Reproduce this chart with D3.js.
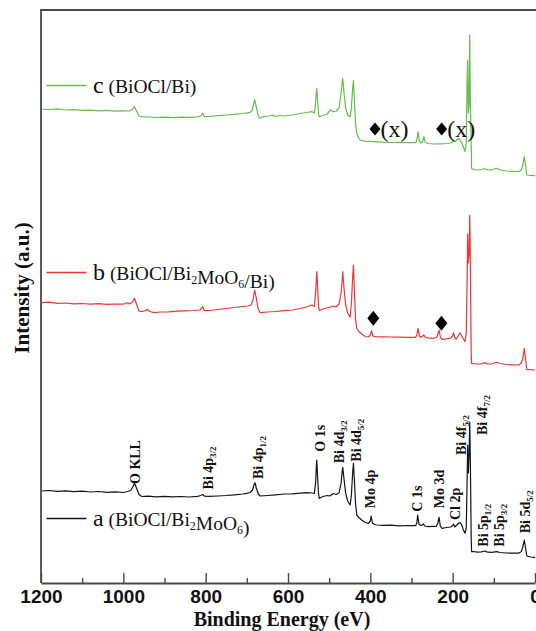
<!DOCTYPE html>
<html>
<head>
<meta charset="utf-8">
<script src="https://cdn.jsdelivr.net/npm/d3@7"></script>
<style>
  html, body { margin: 0; padding: 0; background: #fff; overflow: hidden; }
  text { font-family: "Liberation Serif", "Times New Roman", Times, serif; }
</style>
</head>
<body>
<svg id="chart" width="536" height="631"></svg>
<script>
// XPS survey spectra, [binding energy (eV), intensity (a.u., stacked)]
const spectrumA = [
  [1200,92],[1180,92.5],[1160,91.6],[1140,92.2],[1120,91.4],[1100,91.8],[1080,91.0],[1060,91.5],
  [1040,90.6],[1020,91.2],[1000,90.5],[990,91.5],[982,92.5],[976,97],[973,99.7],[968,95],[962,88.5],
  [955,86.5],[940,86.8],[920,86.2],[900,86.6],[880,86.1],[860,86.5],[840,86.0],[820,86.7],[812,87.5],
  [807,88.5],[803,86.8],[790,86.6],[770,87.0],[750,87.5],[730,88.2],[710,89.0],[700,89.7],[692,90.5],
  [686,93],[682,99],[680,100.3],[677,95],[672,89],[668,87],[650,87.5],[630,88.2],[610,89.0],[590,89.2],
  [570,89.8],[555,90.3],[542,90],[536,89.5],[533,100],[531,118],[530,123],[528,105],[526,90],[524,84.7],
  [515,86.5],[505,87.5],[498,87],[490,89.5],[483,88.5],[476,90],[471,100],[468,113],[467,115.7],[464,104],
  [460,90],[455,82],[449,78],[446,88],[443,110],[441,119.7],[439,105],[436,80],[433,68],[428,65.5],
  [421,63],[412,60.5],[405,59.5],[400,62],[398,67],[395,60],[390,58.5],[385,58],[370,57.6],[350,57.8],
  [330,57.2],[310,57.5],[290,57.3],[287,60],[285,68],[282,59],[277,57.5],[274,58],[271,59],[268,57],
  [260,56.3],[250,56.7],[240,56.5],[236,60],[233,65.7],[230,57],[226,54.7],[215,55.5],[205,56],[200,57.5],
  [198,59],[195,56],[190,58],[185,60],[182,60.3],[178,58],[174,53],[170,49.7],[167,55],[165,100],
  [163.5,138],[162,110],[160,130],[158.5,161],[157,120],[155,45],[154,31.3],[150,31.5],[140,30.8],
  [130,31.2],[121,32],[115,30.8],[105,30.7],[93,31.3],[85,30.5],[70,30],[55,29.8],[40,29.8],[33,31.5],
  [29,37],[26,43],[23,35],[20,27],[10,26],[0,25.3]
];

const spectrumB = [
  [1200,280.3],[1180,280.8],[1160,279.6],[1140,280.0],[1120,279.2],[1100,279.5],[1080,278.8],[1060,279.3],
  [1040,278.6],[1020,279.0],[1000,278.8],[990,280.3],[985,279.0],[978,281],[973,284.7],[968,279],[962,272],
  [955,271.3],[946,272.5],[942,273.7],[936,271.5],[925,270.3],[910,271],[890,271.2],[870,271.8],[850,272.2],
  [830,272.5],[814,273],[807,276.3],[803,272.3],[790,272.5],[770,273.5],[750,274.5],[730,275.5],[710,276.5],
  [697,277],[690,278],[685,283],[681,293],[677,285],[673,275],[668,270.3],[650,271],[630,271.5],[610,272.3],
  [590,273],[570,274.5],[555,276],[542,278],[536,276.5],[533,290],[531,305],[530,311.3],[528,295],[526,278],
  [524,272.3],[515,274],[505,275],[490,277],[483,276],[476,279],[471,290],[468,305],[467,311.3],[464,295],
  [460,278],[455,270],[449,265.7],[446,280],[443,305],[441,318],[439,295],[436,264],[433,254.7],[428,251.5],
  [421,249],[412,246.5],[405,246],[400,248],[397,252.3],[394,247],[390,246.5],[385,246.3],[370,246.2],
  [350,246.0],[330,245.8],[310,245.6],[290,245.7],[287,248],[284,254.7],[281,247],[277,245.5],[274,246.5],
  [270,248],[267,246],[260,245.2],[245,244.7],[238,246],[236,249],[233,253],[230,246],[226,243.7],[215,244.2],
  [205,244.8],[200,247],[198,250.3],[195,246],[192,243.7],[188,246],[184,249],[182,250.3],[178,247],[174,244],
  [170,241.3],[167,250],[165,300],[163.5,349],[162,320],[160,330],[158.5,367.6],[157,320],[155,230],
  [154,219.7],[150,219.3],[140,219.0],[130,219.2],[121,220.3],[115,219],[105,219.2],[93,220.7],[85,219.5],
  [70,218.5],[55,218.2],[40,218],[33,220],[29,226],[26,234.7],[23,224],[20,213.7],[10,213.3],[0,213]
];

const spectrumC = [
  [1200,474],[1180,473.5],[1160,474.2],[1140,473.0],[1120,473.4],[1100,472.6],[1080,472.9],[1060,472.2],
  [1040,472.6],[1020,471.8],[1000,472.2],[985,472],[978,473.5],[973,476.3],[968,472],[962,467],[955,466.3],
  [940,466.0],[920,465.5],[900,465.9],[880,465.3],[860,465.8],[840,465.6],[820,466.2],[812,467],[807,469.7],
  [803,466.3],[790,466.5],[770,467.3],[750,468],[730,468.7],[710,469.5],[694,470.3],[688,472],[684,478],
  [681,483.7],[677,476],[673,468],[668,464.7],[660,466.3],[645,467],[638,468],[632,466.5],[620,467.5],
  [610,467],[590,468],[570,469.5],[555,470.5],[542,471.3],[536,470],[533,480],[531,492],[530,494.7],
  [528,482],[526,470],[524,466.3],[515,467.5],[505,469],[497,473],[490,471.3],[483,472],[476,475],[471,490],
  [468,502],[467,504.7],[464,490],[460,475],[455,468],[449,466.3],[446,475],[443,495],[441,502.3],[439,485],
  [436,460],[433,449.7],[428,445],[425,443],[415,441.8],[390,441.3],[370,440.8],[350,440.5],[330,440.6],
  [310,440.3],[290,440.3],[287,443],[284,451.3],[281,442],[277,440],[273,441],[270,446.3],[267,441],
  [260,439.5],[245,439],[230,439.2],[215,439.5],[205,440],[200,441.5],[198,443],[194,441.3],[190,443],
  [186,444.7],[182,443],[178,440],[174,436],[170,431.3],[167,440],[165,500],[163.5,523],[162,470],[160,480],
  [158.5,548],[157,480],[155,440],[154,414.7],[150,413.5],[140,413],[130,413.5],[121,414.3],[115,413],
  [105,413.2],[93,414.7],[85,413],[70,412],[55,411.6],[40,411.3],[33,413],[29,419],[26,426.3],[23,418],
  [20,408],[10,407.6],[0,407.3]
];

const seriesNames = ["a", "b", "c"];
const seriesLabels = ["(BiOCl/Bi₂MoO₆)", "(BiOCl/Bi₂MoO₆/Bi)", "(BiOCl/Bi)"];
const seriesColors = ["#141414", "#ee3434", "#63be4c"];
const legendLevels = [64.5, 310.5, 497.5];   // intensity level of each legend key

const majorTicks = [1200, 1000, 800, 600, 400, 200, 0];
const minorTicks = [1100, 900, 700, 500, 300, 100];

// peak assignments on spectrum a: [energy of label centre, intensity at label start, name, subscript]
const peakLabels = [
  [971.7, 99, "O KLL", ""],
  [793, 93.6, "Bi 4p", "3/2"],
  [673, 104, "Bi 4p", "1/2"],
  [520.6, 131.3, "O 1s", ""],
  [475.4, 119.7, "Bi 4d", "3/2"],
  [433.1, 121.3, "Bi 4d", "5/2"],
  [400.8, 74.7, "Mo 4p", ""],
  [284.9, 71.3, "C 1s", ""],
  [233.2, 74.7, "Mo 3d", ""],
  [194.4, 63, "Cl 2p", ""],
  [178.1, 128, "Bi 4f", "5/2"],
  [127.1, 148, "Bi 4f", "7/2"],
  [125.6, 36.3, "Bi 5p", "1/2"],
  [86.7, 36.3, "Bi 5p", "3/2"],
  [24.3, 49.7, "Bi 5d", "5/2"]
];

// Bi2MoO6 markers: spectrum b shows them, spectrum c marks their absence
const markersB = [[392.8, 264.7], [227.4, 259.7]];
const markersC = [[388.7, 454], [226.7, 454]];

const svg = d3.select("#chart");
const x = d3.scaleLinear().domain([1200, 0]).range([41, 535]);
const y = d3.scaleLinear().domain([0, 573]).range([583, 10]);

// spectra
const line = d3.line().x(d => x(d[0])).y(d => y(d[1]));
[spectrumA, spectrumB, spectrumC].forEach((s, i) => {
  svg.append("path").datum(s)
    .attr("fill", "none")
    .attr("stroke", seriesColors[i])
    .attr("stroke-width", 1.2)
    .attr("stroke-linejoin", "round")
    .attr("d", line);
});

// frame
const frame = svg.append("g").attr("stroke", "#4a4a4a").attr("stroke-width", 1.8).attr("fill", "none");
frame.append("line").attr("x1", 41).attr("x2", 41).attr("y1", 10).attr("y2", 583);
frame.append("line").attr("x1", 40.1).attr("x2", 536).attr("y1", 10).attr("y2", 10);

// x axis
const axis = svg.append("g").attr("transform", "translate(0,583)")
  .call(d3.axisBottom(x).tickValues(majorTicks).tickSize(-10).tickSizeOuter(0).tickPadding(7)
    .tickFormat(d3.format("d")));
axis.select(".domain").attr("stroke", "#4a4a4a").attr("stroke-width", 1.8);
axis.selectAll(".tick line").attr("stroke", "#4a4a4a").attr("stroke-width", 1.4);
axis.selectAll(".tick text")
  .attr("fill", "#111")
  .style("font-family", "'Liberation Sans', Arial, sans-serif")
  .style("font-weight", "bold")
  .style("font-size", "19px");
svg.append("g").attr("transform", "translate(0,583)")
  .call(d3.axisBottom(x).tickValues(minorTicks).tickSize(-5).tickFormat(""))
  .call(g => g.select(".domain").remove())
  .selectAll(".tick line").attr("stroke", "#4a4a4a").attr("stroke-width", 1.4);

// axis titles
svg.append("text")
  .attr("x", 282).attr("y", 626)
  .attr("text-anchor", "middle")
  .style("font-weight", "bold").style("font-size", "20px").attr("fill", "#111")
  .text("Binding Energy (eV)");
svg.append("text")
  .attr("transform", "translate(29,288) rotate(-90)")
  .attr("text-anchor", "middle")
  .style("font-weight", "bold").style("font-size", "21px").attr("fill", "#111")
  .text("Intensity (a.u.)");

// legend keys
seriesNames.forEach((n, i) => {
  const ly = y(legendLevels[i]);
  svg.append("line").attr("x1", 46.5).attr("x2", 86.5).attr("y1", ly).attr("y2", ly)
    .attr("stroke", seriesColors[i]).attr("stroke-width", 1.4);
  const t = svg.append("text").attr("x", 93).attr("y", ly + 7).attr("fill", "#111");
  t.append("tspan").style("font-size", "24px").text(n);
  const parts = seriesLabels[i].split(/([₂₆])/);
  t.append("tspan").style("font-size", "19.5px").text(" ");
  parts.forEach(p => {
    if (p === "₂" || p === "₆") {
      t.append("tspan").style("font-size", "12px").attr("dy", 4).text(p === "₂" ? "2" : "6");
      t.append("tspan").style("font-size", "19.5px").attr("dy", -4).text("");
    } else if (p.length) {
      t.append("tspan").style("font-size", "19.5px").text(p);
    }
  });
});

// peak labels
peakLabels.forEach(([e, v, name, sub]) => {
  const t = svg.append("text")
    .attr("transform", `translate(${x(e)},${y(v)}) rotate(-90)`)
    .attr("dy", "0.34em")
    .style("font-weight", "bold").style("font-size", "14px").attr("fill", "#111");
  t.append("tspan").text(name);
  if (sub) t.append("tspan").style("font-size", "9px").attr("dy", 3).text(sub);
});

// diamond markers
const diamond = (w, h) => `M0,${-h}L${w},0L0,${h}L${-w},0Z`;
markersB.forEach(([e, v]) => {
  svg.append("path").attr("d", diamond(6, 7.5))
    .attr("transform", `translate(${x(e)},${y(v)})`).attr("fill", "#000");
});
markersC.forEach(([e, v]) => {
  svg.append("path").attr("d", diamond(5.5, 6.5))
    .attr("transform", `translate(${x(e)},${y(v)})`).attr("fill", "#000");
  svg.append("text").attr("x", x(e) + 5.5).attr("y", y(v) + 7.5)
    .style("font-size", "24px").attr("fill", "#111").text("(x)");
});
</script>
</body>
</html>
